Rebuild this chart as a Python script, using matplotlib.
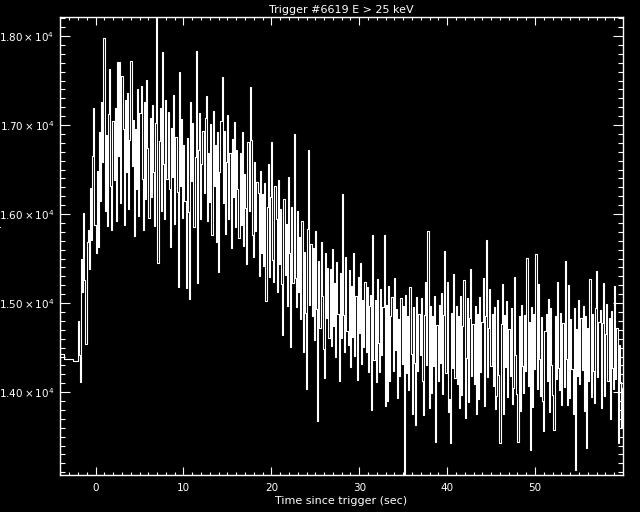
import numpy as np
import matplotlib
matplotlib.use("Agg")
from matplotlib import pyplot as plt
from matplotlib.ticker import MultipleLocator, FixedLocator

# pre-trigger (coarse 1.024 s bins)
t_pre = [-4.2, -3.58, -2.55]
rate_pre = [14427, 14371, 14348]

# 0.128 s bins starting at -2.048 s, 16 bins per row
bin_start = -2.048
bin_width = 0.128

rate_rise = [
    14800, 14420, 14110, 15490, 15120, 16010, 15260, 14540, 15690, 15820, 15380, 16290, 15710, 16650, 17190, 15880,
    15560, 16480, 15630, 16920, 16150, 17260, 16580, 17980, 16040, 16890, 15870, 17120, 17630, 16310, 15820, 17040,
]
rate_peak = [
    16380, 17190, 15920, 17710, 16650, 17710, 16120, 17550, 16960, 15880, 17280, 16470, 17360, 16060, 16830, 17720,
    16540, 17060, 15750, 16950, 16280, 17400, 15980, 17130, 17440, 16390, 15820, 17260, 16170, 17510, 16740, 15960,
    17080, 16190, 17230, 16470, 15870, 17020, 18300, 15450, 16820, 17190, 16030, 17825, 16560, 15940, 17280, 16390,
    17150, 16280, 15630, 16970, 16420, 17340, 15890, 16860, 16250, 15180, 17600, 16320, 17070, 15960, 16780, 16150,
    15170, 16850, 16020, 15050, 17260, 16370, 17020, 15860, 16640, 17835, 15230, 16720, 17140, 15940, 16560, 16930,
    16240, 17080, 17330, 15920, 16690, 16130, 17010, 15770, 17160, 16310, 16780, 15690, 16920, 15350, 16470, 17050,
    17540, 16120, 16930, 15780, 16580, 17110, 15940, 16690, 15620, 16840, 16190, 17030, 15860, 16720, 16280, 15730,
    16690, 15880, 16920, 15640, 16450, 16070, 15440, 16810, 16030, 17430, 16835, 15760, 15520, 16590, 15810, 16360,
]
rate_decay = [
    16240, 15310, 16480, 15560, 16230, 15420, 16350, 15020, 16080, 16560, 15290, 16190, 16815, 15480, 15240, 16310,
    15950, 15130, 16380, 15440, 16060, 15210, 14645, 16170, 15320, 15890, 14970, 16420, 15560, 14510, 16080, 15230,
    16900, 15280, 14960, 16040, 15130, 15740, 14820, 15920, 14455, 15570, 14890, 14040, 15830, 16720, 14980, 15660,
    14860, 15620, 14590, 15810, 14930, 13680, 15470, 14720, 15690, 15080, 14480, 14160, 15560, 14830, 15390, 14610,
    15380, 14520, 15610, 14740, 15230, 14390, 15460, 14880, 14120, 15340, 14610, 16230, 14870, 14450, 15520, 14690,
    14530, 15370, 14280, 15190, 14620, 15560, 14410, 15080, 14140, 15290, 14660, 15450, 14320, 15030, 14510, 15240,
    14450, 15180, 14230, 14970, 15090, 13800, 15760, 14360, 15040, 14110, 15270, 14550, 14230, 15160, 14420, 14960,
    15770, 13840, 14980, 13900, 15190, 14120, 14860, 15070, 14240, 15280, 14470, 14930, 13935, 14820, 14180, 15060,
    14320, 14970, 13000, 15090, 14210, 14850, 14020, 15180, 14430, 13760, 14960, 14330, 13630, 15070, 14240, 14880,
    14420, 15060, 14130, 13745, 14870, 15240, 14310, 15805, 13820, 14970, 13990, 14860, 14290, 15080, 13445, 14750,
]
rate_tail = [
    14120, 14980, 14330, 15110, 13980, 14870, 15590, 14210, 15240, 13780, 13920, 13430, 14890, 14270, 15330, 14160,
    14970, 14090, 14860, 13820, 15080, 13970, 14740, 15260, 13715, 14380, 15060, 13890, 14830, 15385, 14180, 14760,
    14090, 14970, 13760, 14880, 13920, 15070, 14230, 14790, 15280, 13840, 14850, 15710, 14170, 14720, 15160, 14290,
    14880, 14070, 14960, 13810, 13960, 15040, 14190, 13430, 14760, 15220, 13750, 14870, 14280, 15020, 13940, 14710,
    14180, 14940, 13870, 14050, 15290, 14420, 13980, 13445, 14850, 13790, 14980, 14290, 13990, 14870, 14240, 15510,
    14070, 14790, 13350, 14960, 13830, 14880, 14260, 15555, 14040, 15210, 14370, 13960, 14840, 13900, 13560, 14690,
    14880, 14130, 15050, 13780, 14950, 14310, 13970, 13575, 14860, 14150, 15240, 14270, 14020, 14890, 13860, 14780,
    14060, 15475, 14370, 13850, 15200, 13930, 14820, 14260, 13760, 14940, 13120, 14710, 14180, 15030, 14090, 14830,
    14250, 14970, 13790, 14860, 13375, 14720, 14130, 15270, 13950, 14880, 14240, 13880, 14950, 15360, 14170, 14790,
    14920, 13820, 14780, 15230, 13960, 14650, 14990, 14120, 14830, 13700, 14910, 14270, 14040, 15190, 14150, 14720,
    13430, 14530, 14110, 13600, 14050,
]

y_ticks = [14000, 15000, 16000, 17000, 18000]
y_ticklabels = [r'$1.40\times10^{4}$', r'$1.50\times10^{4}$', r'$1.60\times10^{4}$',
                r'$1.70\times10^{4}$', r'$1.80\times10^{4}$']


def main():
    rate_main = rate_rise + rate_peak + rate_decay + rate_tail
    t_main = bin_start + bin_width * np.arange(len(rate_main))
    t = np.concatenate([t_pre, t_main])
    r = np.concatenate([rate_pre, rate_main])

    plt.rcParams['mathtext.fontset'] = 'dejavusans'
    fig = plt.figure(figsize=(6.4, 5.12), dpi=100, facecolor='black')
    ax = fig.add_axes([60 / 640, 1 - 474.5 / 512, 562.5 / 640, 457.2 / 512])
    ax.set_facecolor('black')

    ax.plot(t, r, color='white', lw=0.8, drawstyle='steps-post')

    ax.set_xlim(-4.05, 59.95)
    ax.set_ylim(13075, 18210)

    ax.xaxis.set_major_locator(MultipleLocator(10))
    ax.xaxis.set_minor_locator(MultipleLocator(1))
    ax.yaxis.set_major_locator(FixedLocator(y_ticks))
    ax.yaxis.set_minor_locator(MultipleLocator(100))
    ax.set_yticklabels(y_ticklabels)

    for sp in ax.spines.values():
        sp.set_color('white')
        sp.set_linewidth(1.0)
    ax.tick_params(axis='both', which='both', direction='in', colors='white',
                   top=True, right=True, width=0.8, labelsize=7.5)
    ax.tick_params(axis='x', which='major', length=5.5, pad=6)
    ax.tick_params(axis='x', which='minor', length=2.5)
    ax.tick_params(axis='y', which='major', length=7.2, pad=4)
    ax.tick_params(axis='y', which='minor', length=3.4)

    ax.set_title("Trigger #6619 E > 25 keV", color='white', fontsize=8, pad=3)
    ax.set_xlabel("Time since trigger (sec)", color='white', fontsize=8, labelpad=2)
    fig.text(-0.004, 1 - 234 / 512, "Counts/sec", color='white', fontsize=8,
             rotation=90, ha='center', va='center')

    fig.savefig("out.png", dpi=100, facecolor='black')

if __name__ == '__main__':
    main()
